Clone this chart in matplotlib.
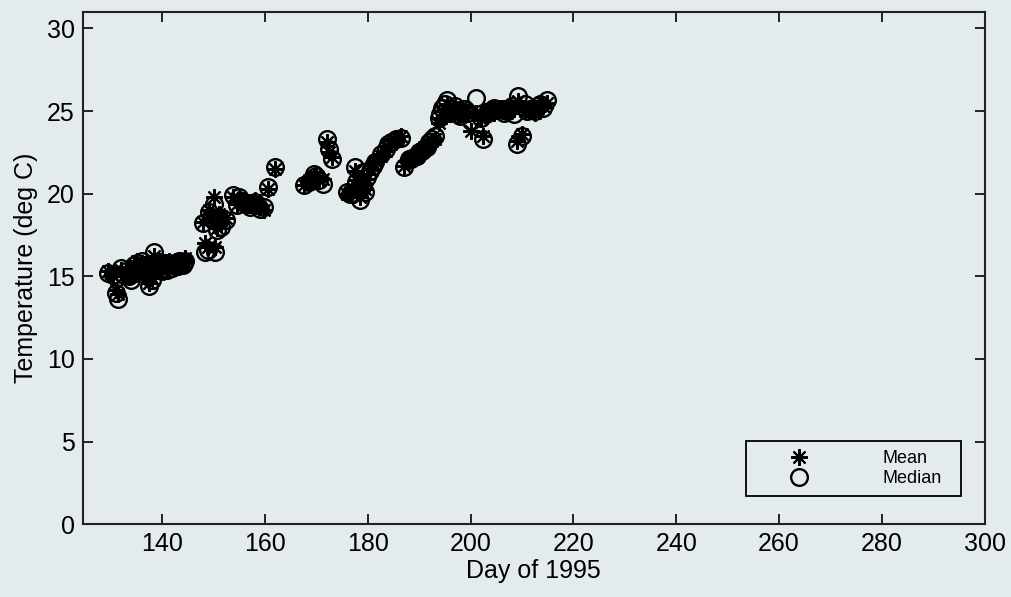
import matplotlib
matplotlib.use("Agg")
import matplotlib.pyplot as plt

plt.rcParams['font.family'] = ['Liberation Sans', 'DejaVu Sans']

days = [129.5, 130.5, 131.0, 131.5, 132.0, 133.0, 134.0, 134.5, 135.5, 136.0,
        137.0, 137.5, 138.0, 138.5, 139.0, 140.0, 140.5, 141.0, 141.5, 142.0,
        142.5, 143.0, 143.5, 144.0, 144.5,
        133.5, 134.8, 135.2, 136.4, 137.3, 139.5, 140.2, 141.3, 142.3, 143.3, 144.3, 132.5,
        148.0, 148.3, 149.0, 149.5, 150.0, 150.2, 150.7, 151.5, 152.5, 149.2, 151.0,
        153.8, 154.5, 155.5, 156.5, 157.0, 158.0, 159.0, 159.8, 160.5, 162.0,
        155.0, 156.0, 157.5, 158.5,
        167.5, 168.5, 169.5, 170.5, 171.2, 172.0, 172.5, 173.0, 169.0, 170.0,
        176.0, 177.0, 177.5, 178.0, 178.5, 179.0, 179.5, 180.5, 181.5, 182.5,
        183.5, 184.5, 185.5, 186.5, 176.5, 177.8, 178.8, 179.8, 181.0, 184.0,
        187.0, 188.0, 189.0, 190.0, 191.0, 192.0, 193.0, 193.8, 194.5, 195.5,
        188.5, 189.5, 190.5, 191.5, 192.5, 194.0, 195.0,
        196.0, 197.0, 198.0, 199.0, 200.0, 201.0, 202.0, 202.5, 203.5, 204.5,
        205.5, 206.5, 207.5, 208.5, 209.0, 209.3, 210.0, 210.5, 211.5, 212.5,
        213.5, 214.8,
        196.5, 197.5, 198.5, 199.5, 203.0, 204.0, 205.0, 206.0, 207.0, 208.0,
        211.0, 212.0, 213.0, 214.0]

mean_temp = [15.3, 15.0, 14.2, 13.9, 15.4, 15.2, 15.0, 15.6, 15.5, 15.8,
             15.3, 14.6, 14.9, 16.2, 15.6, 15.4, 15.7, 15.5, 15.8, 15.6,
             15.9, 15.7, 16.0, 15.8, 16.1,
             15.1, 15.3, 15.9, 15.6, 15.5, 15.9, 15.6, 15.9, 15.8, 16.0, 15.9, 15.0,
             18.3, 17.0, 16.8, 18.5, 19.8, 16.8, 17.9, 18.2, 18.5, 19.0, 18.8,
             19.8, 19.4, 19.6, 19.5, 19.3, 19.6, 19.2, 19.0, 20.3, 21.5,
             19.7, 19.6, 19.5, 19.4,
             20.5, 20.8, 21.1, 20.9, 20.9, 23.1, 22.5, 22.2, 20.9, 21.0,
             20.0, 20.2, 21.4, 20.5, 19.8, 21.0, 20.3, 21.5, 22.0, 22.3,
             22.6, 23.0, 23.2, 23.5, 20.1, 20.8, 20.5, 20.9, 21.8, 22.9,
             21.7, 22.0, 22.3, 22.6, 22.8, 23.0, 23.3, 24.3, 25.0, 25.4,
             22.2, 22.4, 22.7, 22.9, 23.2, 24.6, 25.1,
             24.8, 25.1, 24.8, 25.0, 23.8, 24.9, 24.5, 23.5, 25.1, 24.9,
             25.2, 25.0, 25.3, 25.1, 23.2, 25.6, 23.6, 25.0, 25.2, 24.9,
             25.3, 25.5,
             25.0, 24.9, 25.0, 24.8, 24.9, 25.1, 25.0, 25.2, 24.9, 25.2,
             25.1, 25.0, 25.2, 25.3]

median_temp = [15.2, 15.1, 14.0, 13.6, 15.5, 15.3, 14.8, 15.7, 15.4, 15.9,
               15.2, 14.4, 14.8, 16.5, 15.5, 15.3, 15.8, 15.4, 15.7, 15.5,
               15.8, 15.6, 15.8, 15.7, 15.9,
               15.0, 15.2, 15.8, 15.7, 15.4, 15.8, 15.5, 15.8, 15.7, 15.9, 15.8, 15.1,
               18.2, 16.5, 16.6, 18.6, 19.4, 16.5, 17.8, 18.0, 18.4, 18.9, 18.6,
               19.9, 19.3, 19.5, 19.4, 19.2, 19.5, 19.1, 19.2, 20.4, 21.6,
               19.8, 19.5, 19.4, 19.3,
               20.5, 20.7, 21.2, 20.8, 20.6, 23.3, 22.7, 22.1, 20.8, 21.1,
               20.1, 20.0, 21.6, 20.3, 19.6, 21.3, 20.1, 21.4, 21.9, 22.4,
               22.7, 23.1, 23.3, 23.4, 20.0, 20.7, 20.4, 21.0, 21.7, 23.0,
               21.6, 22.1, 22.2, 22.5, 22.7, 23.1, 23.5, 24.6, 25.2, 25.7,
               22.1, 22.3, 22.6, 22.8, 23.3, 24.8, 25.4,
               24.9, 25.3, 24.7, 25.1, 24.4, 25.8, 24.6, 23.3, 25.0, 25.2,
               25.1, 24.9, 25.2, 24.8, 23.0, 25.9, 23.5, 25.4, 25.1, 25.0,
               25.4, 25.7,
               25.1, 24.8, 25.1, 24.9, 24.8, 25.0, 25.1, 25.1, 25.0, 25.3,
               25.0, 25.1, 25.3, 25.2]

x_ticks = [140, 160, 180, 200, 220, 240, 260, 280, 300]
y_ticks = [0, 5, 10, 15, 20, 25, 30]

bg = '#e4ebed'
fig = plt.figure(figsize=(10.12, 5.97), dpi=100, facecolor=bg)
ax = fig.add_axes([0.082, 0.122, 0.891, 0.858], facecolor=bg)

asterisk = (8, 2, 0)
ax.plot(days, mean_temp, linestyle='none', marker=asterisk, markersize=12,
        markeredgewidth=1.5, color='black', label='Mean')
ax.plot(days, median_temp, linestyle='none', marker='o', markersize=12,
        markerfacecolor='none', markeredgewidth=1.7, markeredgecolor='black',
        label='Median')

ax.set_xlim(124.6, 300)
ax.set_ylim(0, 31)
ax.set_xticks(x_ticks)
ax.set_yticks(y_ticks)
ax.tick_params(direction='in', length=7, width=1.2, top=True, right=True,
               labelsize=18, colors='black', pad=6)
for s in ax.spines.values():
    s.set_linewidth(1.5)
    s.set_color('#202020')

ax.set_xlabel('Day of 1995', fontsize=18, labelpad=2)
ax.set_ylabel('Temperature (deg C)', fontsize=18, labelpad=6)

leg = ax.legend(loc='lower left', bbox_to_anchor=(0.735, 0.055, 0.239, 0.111),
                mode='expand', fontsize=13, frameon=True, fancybox=False,
                edgecolor='black', facecolor=bg, framealpha=1,
                handlelength=4.9, handletextpad=2.15, borderpad=0.5,
                labelspacing=0.15, borderaxespad=0)
leg.get_frame().set_linewidth(1.3)

fig.savefig('out.png', dpi=100, facecolor=bg)
